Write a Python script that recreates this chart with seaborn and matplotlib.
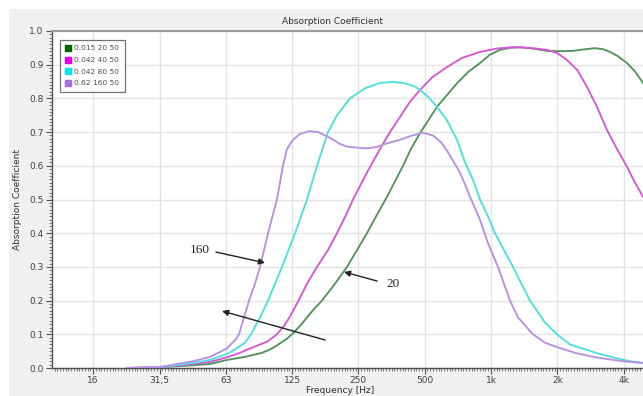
import numpy as np
import pandas as pd
import matplotlib
matplotlib.use("Agg")
import matplotlib.pyplot as plt
from matplotlib.lines import Line2D
from matplotlib.patches import Rectangle
from matplotlib.ticker import FixedLocator, NullFormatter
import seaborn as sns

# ---------------- data ----------------
series_names = ["0.015 20 50", "0.042 40 50", "0.042 80 50", "0.62 160 50"]
series_colors = ["#52945a", "#d458d4", "#4ee0e0", "#b890e2"]
legend_colors = ["#006400", "#e000e0", "#00e8e8", "#a070e0"]

green_f = [22.2, 31.4, 44.3, 53.0, 63.3, 76.4, 91.2, 99.2, 105.6, 110.1, 118.5, 126.2, 135.8,
           146.1, 157.2, 170.8, 195.7, 221.9, 246.4, 273.5, 303.7, 337.2, 398.6, 433.2, 476.0,
           568.6, 631.3, 701.2, 786.3, 891.4, 989.6, 1098.7, 1219.8, 1354.2, 1584.2, 1796.0,
           2057.2, 2356.8, 2613.8, 2966.0, 3224.8, 3469.8, 3772.5, 4144.8, 4506.0, 4898.8]
green_v = [0.0, 0.002, 0.008, 0.012, 0.024, 0.033, 0.045, 0.055, 0.065, 0.073, 0.087, 0.103, 0.125,
           0.15, 0.175, 0.2, 0.25, 0.3, 0.35, 0.4, 0.455, 0.508, 0.6, 0.65, 0.697,
           0.775, 0.81, 0.845, 0.878, 0.905, 0.93, 0.944, 0.95, 0.952, 0.947, 0.941,
           0.94, 0.941, 0.945, 0.949, 0.946, 0.938, 0.925, 0.905, 0.88, 0.846]

magenta_f = [22.2, 31.4, 44.3, 53.0, 63.3, 72.5, 80.5, 96.2, 106.7, 114.9, 121.6, 133.7, 146.1,
             162.2, 181.9, 199.9, 221.9, 236.3, 273.5, 313.4, 347.9, 386.2, 428.7, 476.0, 539.6,
             631.3, 738.5, 891.4, 1064.7, 1258.6, 1503.4, 1796.0, 1993.8, 2213.2, 2460.0, 2728.2,
             3028.9, 3363.3, 3733.4, 4144.8, 4506.0, 4898.8]
magenta_v = [0.0, 0.002, 0.012, 0.018, 0.032, 0.045, 0.058, 0.078, 0.1, 0.125, 0.15, 0.2, 0.25,
             0.3, 0.35, 0.4, 0.46, 0.5, 0.58, 0.65, 0.70, 0.745, 0.79, 0.825, 0.862,
             0.893, 0.92, 0.938, 0.948, 0.952, 0.95, 0.944, 0.935, 0.914, 0.885, 0.834,
             0.775, 0.706, 0.65, 0.597, 0.55, 0.508]

cyan_f = [22.2, 31.4, 44.3, 53.0, 63.3, 68.8, 76.4, 81.3, 89.4, 97.2, 104.5, 112.5, 128.9, 146.1,
          162.2, 181.9, 199.9, 229.0, 267.9, 313.4, 359.3, 406.5, 451.8, 476.0, 517.6, 568.6,
          631.3, 701.2, 762.0, 828.5, 891.4, 969.1, 1042.7, 1258.6, 1503.4, 1758.7, 1993.8,
          2284.0, 3028.9, 3656.0, 4276.8, 4898.8]
cyan_v = [0.0, 0.002, 0.015, 0.024, 0.042, 0.055, 0.075, 0.1, 0.15, 0.2, 0.25, 0.3, 0.4, 0.5,
          0.6, 0.7, 0.75, 0.8, 0.83, 0.846, 0.849, 0.845, 0.835, 0.825, 0.805, 0.775,
          0.735, 0.677, 0.61, 0.558, 0.5, 0.45, 0.4, 0.3, 0.2, 0.135, 0.1,
          0.07, 0.044, 0.03, 0.02, 0.015]

purple_f = [22.2, 31.4, 44.3, 53.0, 63.3, 65.3, 69.5, 71.8, 75.6, 79.7, 84.8, 89.4, 93.2, 97.2,
            101.8, 106.7, 110.1, 113.6, 118.5, 126.2, 135.8, 150.7, 163.9, 185.8, 206.3, 221.9,
            254.2, 276.4, 303.7, 330.2, 386.2, 433.2, 491.2, 545.4, 592.9, 631.3, 679.2, 723.2,
            762.0, 802.9, 891.4, 969.1, 1075.9, 1219.8, 1326.2, 1551.4, 1758.7, 1993.8, 2406.6,
            2966.0, 3580.7, 4276.8, 4898.8]
purple_v = [0.0, 0.003, 0.02, 0.033, 0.058, 0.068, 0.085, 0.1, 0.15, 0.2, 0.25, 0.3, 0.35, 0.4,
            0.45, 0.5, 0.55, 0.6, 0.65, 0.677, 0.695, 0.703, 0.70, 0.683, 0.665, 0.657,
            0.653, 0.652, 0.656, 0.665, 0.677, 0.689, 0.698, 0.69, 0.67, 0.645, 0.61, 0.58,
            0.545, 0.508, 0.44, 0.37, 0.30, 0.2, 0.15, 0.1, 0.075, 0.062, 0.045,
            0.032, 0.024, 0.018, 0.015]

tick_freqs = [15.625, 31.25, 62.5, 125, 250, 500, 1000, 2000, 4000]
tick_labels = ["16", "31,5", "63", "125", "250", "500", "1k", "2k", "4k"]
y_ticks = [0.0, 0.1, 0.2, 0.3, 0.4, 0.5, 0.6, 0.7, 0.8, 0.9, 1.0]

# annotation anchors (freq, value)
label160_pos = (47.7, 0.350)
arrow160 = [(56.4, 0.344), (94.2, 0.312)]
label20_pos = (359, 0.249)
arrow20 = [(304, 0.258), (215, 0.285)]
arrow_plain = [(176.6, 0.083), (60.1, 0.169)]

# ---------------- build long table ----------------
frames = []
for name, f, v in zip(series_names,
                      [green_f, magenta_f, cyan_f, purple_f],
                      [green_v, magenta_v, cyan_v, purple_v]):
    frames.append(pd.DataFrame({"freq": f, "alpha": v, "series": name}))
df = pd.concat(frames, ignore_index=True)

# ---------------- figure ----------------
sns.set_style("white")
W, H = 643, 396
fig = plt.figure(figsize=(W / 100, H / 100), dpi=100, facecolor="white")
bg = Rectangle((9 / W, 0), 1, 1 - 9 / H, transform=fig.transFigure,
               facecolor="#f0f0f0", edgecolor="none", zorder=-10)
fig.patches.append(bg)

ax = fig.add_axes([52 / W, 28 / H, (W - 52) / W + 0.02, 337 / H])
ax.set_zorder(1)
ax.set_facecolor("white")

sns.lineplot(data=df, x="freq", y="alpha", hue="series", palette=series_colors,
             hue_order=series_names, estimator=None, sort=True, lw=1.35,
             legend=False, ax=ax, zorder=3)
for ln in ax.lines:
    ln.set_solid_joinstyle("round")

ax.set_xscale("log")
ax_w_px = W - 52 + 0.02 * W
xmin = 1000 * 2 ** ((52 - 491) / 66.3)
xmax = 1000 * 2 ** ((52 + ax_w_px - 491) / 66.3)
ax.set_xlim(xmin, xmax)
ax.set_ylim(0, 1.0)

ax.xaxis.set_major_locator(FixedLocator(tick_freqs))
ax.set_xticklabels(tick_labels)
minor_x = [1000 * 2 ** (k / 24) for k in range(-170, 60)]
ax.xaxis.set_minor_locator(FixedLocator(minor_x))
ax.xaxis.set_minor_formatter(NullFormatter())
ax.set_yticks(y_ticks)
ax.set_yticklabels([f"{t:.1f}" for t in y_ticks])
ax.yaxis.set_minor_locator(FixedLocator(np.arange(0, 1.0001, 0.01)))

ax.tick_params(axis="both", which="major", direction="out", length=4, width=0.8,
               color="#505050", labelsize=6.5, labelcolor="#404040", pad=2,
               bottom=True, left=True)
ax.tick_params(axis="both", which="minor", direction="out", length=2, width=0.6,
               color="#606060", bottom=True, left=True)

ax.grid(True, which="major", color="#e3e3e3", lw=1.0, zorder=0)
ax.set_axisbelow(True)

for s in ["left", "bottom"]:
    ax.spines[s].set_color("#505050")
    ax.spines[s].set_linewidth(1.0)
ax.spines["top"].set_color("#9a9a9a")
ax.spines["top"].set_linewidth(1.5)
ax.spines["right"].set_visible(False)

ax.set_xlabel("")
ax.set_ylabel("")
fig.text(333 / W, 1 - 22 / H, "Absorption Coefficient", ha="center", va="center",
         fontsize=6.5, color="#303030")
fig.text(18 / W, 1 - 200 / H, "Absorption Coefficient", ha="center", va="center",
         rotation=90, fontsize=6.5, color="#303030")
fig.text(340 / W, 1 - 386 / H, "Frequency [Hz]", ha="center", va="top",
         fontsize=6.5, color="#303030")

handles = [Line2D([], [], marker="s", ls="none", color=c, markersize=3.8) for c in legend_colors]
leg = ax.legend(handles, series_names, loc="upper left",
                bbox_to_anchor=((60 - 52) / ax_w_px, (368 - 40) / 337),
                bbox_transform=ax.transAxes,
                fontsize=5.4, frameon=True, fancybox=False, handlelength=0.8,
                handletextpad=0.4, labelspacing=0.72, borderpad=0.7, borderaxespad=0)
leg.get_frame().set_edgecolor("#505050")
leg.get_frame().set_linewidth(0.9)
for t in leg.get_texts():
    t.set_color("#505050")

serif = ["Liberation Serif", "DejaVu Serif"]
ax.text(*label160_pos, "160", fontsize=9.5, family=serif, ha="center", va="center", zorder=5)
ax.text(*label20_pos, "20", fontsize=9.5, family=serif, ha="center", va="center", zorder=5)
for tail, tip in [arrow160, arrow20, arrow_plain]:
    ax.annotate("", xy=tip, xytext=tail,
                arrowprops=dict(arrowstyle="-|>", color="#222222", lw=1.0,
                                mutation_scale=9, shrinkA=0, shrinkB=0), zorder=5)

fig.savefig("out.png", dpi=100, facecolor=fig.get_facecolor())
